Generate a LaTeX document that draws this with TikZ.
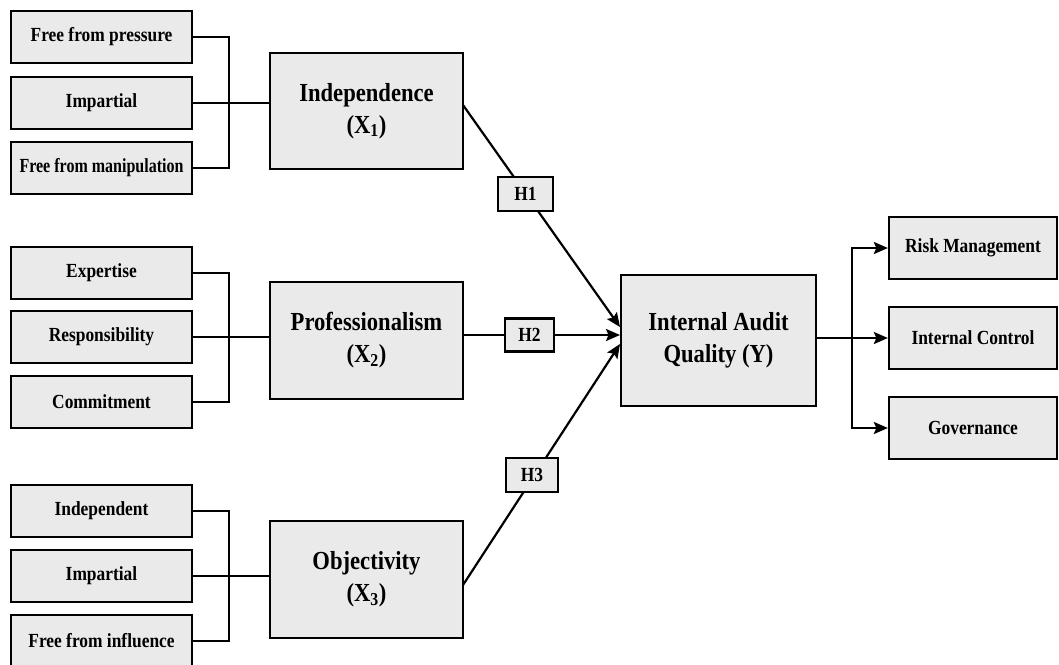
\documentclass[tikz,border=0pt]{standalone}
\usepackage{fontspec}
\setmainfont[FakeStretch=0.87]{Liberation Serif}
\usetikzlibrary{arrows.meta}
\definecolor{boxfill}{RGB}{234,234,234}
\begin{document}
\begin{tikzpicture}[x=1pt,y=-1pt,
  every node/.style={font=\bfseries},
  base/.style={draw=black,line width=2.3pt,fill=boxfill,inner sep=0pt,align=center},
  smallbox/.style={base,minimum width=181pt,minimum height=52pt,font=\fontsize{20}{24}\bfseries\selectfont},
  bigbox/.style={base,minimum width=193pt,minimum height=116pt,font=\fontsize{26}{32}\bfseries\selectfont},
  hbox/.style={base,minimum height=34pt,font=\fontsize{20}{24}\bfseries\selectfont},
  outbox/.style={base,minimum width=168pt,minimum height=62pt,font=\fontsize{20}{24}\bfseries\selectfont},
  link/.style={line width=2.2pt},
  arr/.style={line width=2.2pt,-{Stealth[length=14pt,width=12pt,inset=2.5pt]}}]
\useasboundingbox (0,0) rectangle (1059,664);
\clip (0,0) rectangle (1059,664);
% left indicator boxes
\node[smallbox] (fp)   at (101.5,37)  {Free from pressure};
\node[smallbox] (imp1) at (101.5,103) {Impartial};
\node[smallbox] (fm)   at (101.5,168) {\scalebox{0.92}[1]{Free from manipulation}};
\node[smallbox] (exp)  at (101.5,273) {Expertise};
\node[smallbox] (resp) at (101.5,337) {Responsibility};
\node[smallbox] (com)  at (101.5,402) {Commitment};
\node[smallbox] (indp) at (101.5,511) {Independent};
\node[smallbox] (imp2) at (101.5,576) {Impartial};
\node[smallbox] (ffi)  at (101.5,641) {Free from influence};
% variable boxes
\node[bigbox] (ind)  at (366.5,111)   {Independence\\(X\textsubscript{1})};
\node[bigbox,minimum height=117pt] (prof) at (366.5,340.5) {Professionalism\\(X\textsubscript{2})};
\node[bigbox,minimum height=117pt] (obj)  at (366.5,579.5) {Objectivity\\(X\textsubscript{3})};
\node[bigbox,minimum width=195pt,minimum height=131pt] (iaq) at (718.5,340.5) {Internal Audit\\Quality (Y)};
% output boxes
\node[outbox] (rm)  at (973,248) {Risk Management};
\node[outbox] (ic)  at (973,338) {Internal Control};
\node[outbox] (gov) at (973,428) {Governance};
% brackets
\coordinate (b1) at (229,0);
\draw[link] (fp.east) -| (b1 |- fm.east) -- (fm.east);
\draw[link] (imp1.east) -- (ind.west |- imp1.east);
\draw[link] (exp.east) -| (b1 |- com.east) -- (com.east);
\draw[link] (resp.east) -- (prof.west |- resp.east);
\draw[link] (indp.east) -| (b1 |- ffi.east) -- (ffi.east);
\draw[link] (imp2.east) -- (obj.west |- imp2.east);
% hypotheses
\coordinate (s1) at (463,105);
\coordinate (e1) at (620,327);
\coordinate (s2) at (463,335);
\coordinate (e2) at (620,335);
\coordinate (s3) at (463,585);
\coordinate (e3) at (620,344);
\draw[arr] (s1) -- (e1);
\draw[arr] (s2) -- (e2);
\draw[arr] (s3) -- (e3);
\node[hbox,minimum width=55pt] (H1) at (525.5,194) {H1};
\node[hbox,minimum width=49pt,minimum height=33pt] (H2) at (529.5,335) {H2};
\node[hbox,minimum width=52pt] (H3) at (532,475) {H3};
% outputs
\coordinate (b2) at (852,0);
\draw[arr] (iaq.east |- ic.west) -- (ic.west);
\draw[arr] (b2 |- ic.west) |- (rm.west);
\draw[arr] (b2 |- ic.west) |- (gov.west);
\end{tikzpicture}
\end{document}
